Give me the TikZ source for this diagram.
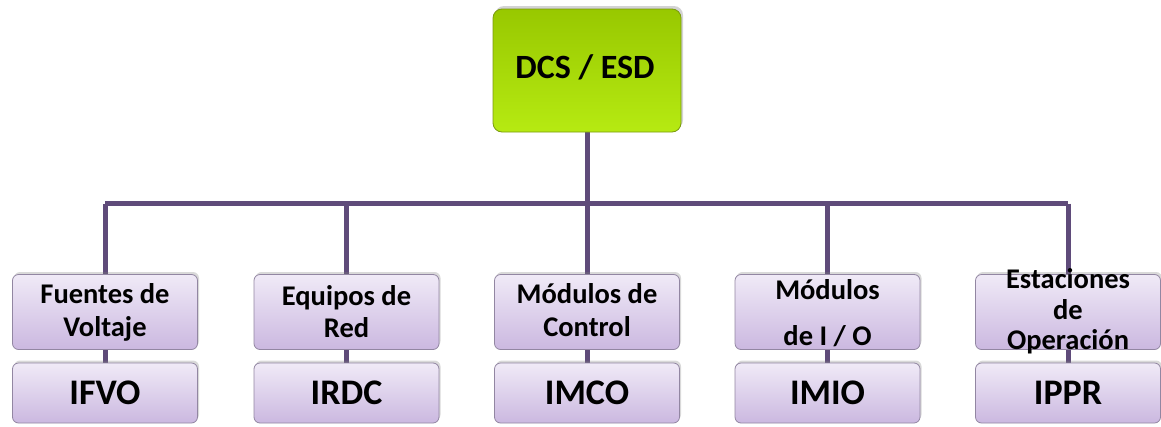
\documentclass[tikz,border=0pt]{standalone}
\usepackage{fontspec}
\setmainfont{Carlito}
\usetikzlibrary{shadows,backgrounds}
\definecolor{treeline}{HTML}{5F4B7A}
\definecolor{greentop}{HTML}{98C800}
\definecolor{greenbot}{HTML}{B6EA12}
\definecolor{greenrim}{HTML}{7A9A10}
\definecolor{lavtop}{HTML}{F0EAF7}
\definecolor{lavbot}{HTML}{CBB8E0}
\definecolor{lavrim}{HTML}{9286A2}
\tikzset{
  rootbox/.style={draw=greenrim, line width=0.8, rounded corners=9,
    top color=greentop, bottom color=greenbot,
    minimum width=188, minimum height=123, inner sep=0,
    drop shadow={shadow xshift=2, shadow yshift=-3, opacity=0.35}},
  catbox/.style={draw=lavrim, line width=0.8, rounded corners=6,
    top color=lavtop, bottom color=lavbot,
    minimum width=185, minimum height=75, inner sep=0,
    drop shadow={shadow xshift=1.5, shadow yshift=-2.5, opacity=0.3}},
  codebox/.style={draw=lavrim, line width=0.8, rounded corners=6,
    top color=lavtop, bottom color=lavbot,
    minimum width=185, minimum height=60, inner sep=0,
    drop shadow={shadow xshift=1.5, shadow yshift=-2.5, opacity=0.3}},
  cattext/.style={anchor=base, font=\fontsize{28.5}{33}\selectfont\bfseries, inner sep=0},
  codetext/.style={font=\fontsize{36}{40}\selectfont\bfseries, inner sep=0},
  link/.style={draw=treeline, line width=5}
}
\begin{document}
\begin{tikzpicture}[x=1pt,y=-1pt]
\useasboundingbox (0,0) rectangle (1161,426);

% root
\node[rootbox] (root) at (587,70.5) {};
\node[font=\fontsize{34}{40}\selectfont\bfseries, inner sep=0] (roottxt) at (585,67) {DCS / ESD};

% category boxes and their code boxes
\foreach \i/\x in {1/105,2/346.5,3/587,4/827.5,5/1068}{
  \node[catbox] (c\i) at (\x,312) {};
  \node[codebox] (k\i) at (\x,393) {};
}
\coordinate (hub) at (587,203.5);

% tree lines behind the boxes
\begin{scope}[on background layer]
  \draw[link] (root.south) -- (hub);
  \draw[link] (c1.north |- hub) -- (c5.north |- hub);
  \foreach \i in {1,...,5}{
    \draw[link] (c\i.north |- hub) -- (c\i.north);
    \draw[link] (c\i.south) -- (k\i.north);
  }
\end{scope}

% labels, one node per printed line
\node[cattext] (t1a) at (105,303) {Fuentes de};
\node[cattext] (t1b) at (105,336) {Voltaje};
\node[cattext] (t2a) at (346.5,305) {Equipos de};
\node[cattext] (t2b) at (346.5,337) {Red};
\node[cattext] (t3a) at (587,303) {Módulos de};
\node[cattext] (t3b) at (587,336) {Control};
\node[cattext] (t4a) at (827.5,299) {Módulos};
\node[cattext] (t4b) at (827.5,345) {de I / O};
\node[cattext] (t5a) at (1068,288) {Estaciones};
\node[cattext] (t5b) at (1068,319) {de};
\node[cattext] (t5c) at (1068,349) {Operación};

\node[codetext] (n1) at (k1) {IFVO};
\node[codetext] (n2) at (k2) {IRDC};
\node[codetext] (n3) at (k3) {IMCO};
\node[codetext] (n4) at (k4) {IMIO};
\node[codetext] (n5) at (k5) {IPPR};
\end{tikzpicture}
\end{document}
